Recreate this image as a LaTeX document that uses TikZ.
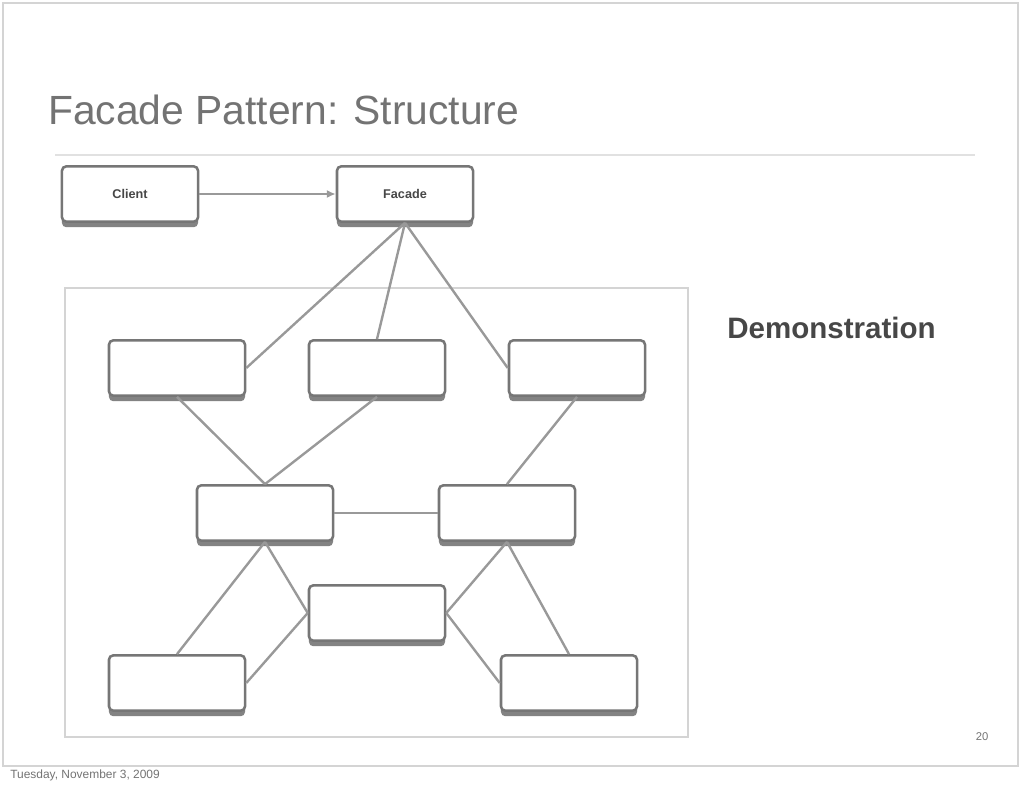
\documentclass[tikz,border=0pt]{standalone}
\usepackage{fontspec}
\setmainfont{Liberation Sans}
\usepackage{xcolor}
\usetikzlibrary{arrows.meta,shadows}
\definecolor{boxgrey}{HTML}{767676}
\definecolor{linegrey}{HTML}{999999}
\definecolor{framegrey}{HTML}{D4D4D4}
\definecolor{titlegrey}{HTML}{737373}
\definecolor{textgrey}{HTML}{474747}

\begin{document}
\begin{tikzpicture}[
  x=0.025cm, y=-0.025cm,
  every node/.style={align=center},
  classbox/.style={rectangle, rounded corners=3pt, fill=white, draw=boxgrey,
    line width=1.8pt, minimum width=3.4cm, minimum height=1.38cm,
    font=\small\bfseries, text=textgrey,
    drop shadow={shadow xshift=0pt, shadow yshift=-4pt, fill=boxgrey, opacity=0.9}},
  link/.style={line width=1.7pt, linegrey},
  arrow/.style={-{Latex[length=2.2mm, width=2mm]}, line width=1.7pt, linegrey}
]
\useasboundingbox (0,0) rectangle (1024,788);

%% Slide frame, title and rule
\draw[framegrey, line width=1pt] (3,3) rectangle (1018,766);
\node[anchor=west, font=\fontsize{29}{34}\selectfont, text=titlegrey, inner sep=0pt]
  (title) at (48,110) {Facade Pattern: Structure};
\draw[framegrey!70, line width=1pt] (55,155) -- (975,155);

%% Subsystem frame
\draw[framegrey, line width=2pt] (65,288) rectangle (688,737);

%% Client and facade
\node[classbox] (client) at (130,194) {Client};
\node[classbox] (facade) at (405,194) {Facade};

%% Subsystem classes
\node[classbox] (classa) at (177,368) {};
\node[classbox] (classb) at (377,368) {};
\node[classbox] (classc) at (577,368) {};
\node[classbox] (classd) at (265,513) {};
\node[classbox] (classe) at (507,513) {};
\node[classbox] (classf) at (377,613) {};
\node[classbox] (classg) at (177,683) {};
\node[classbox] (classh) at (569,683) {};

%% Client to facade
\draw[arrow] (client.east) -- (facade.west);

%% Facade into the subsystem
\draw[link] (facade.south) -- (classa.east);
\draw[link] (facade.south) -- (classb.north);
\draw[link] (facade.south) -- (classc.west);

%% Inside the subsystem
\draw[link] (classa.south) -- (classd.north);
\draw[link] (classb.south) -- (classd.north);
\draw[link] (classc.south) -- (classe.north);
\draw[link] (classd.east) -- (classe.west);
\draw[link] (classd.south) -- (classg.north);
\draw[link] (classd.south) -- (classf.west);
\draw[link] (classg.east) -- (classf.west);
\draw[link] (classe.south) -- (classf.east);
\draw[link] (classe.south) -- (classh.north);
\draw[link] (classf.east) -- (classh.west);

%% Side note, page number and footer
\node[anchor=west, font=\fontsize{21}{25}\selectfont\bfseries, text=textgrey, inner sep=0pt]
  (demo) at (727,328) {Demonstration};
\node[font=\fontsize{8}{10}\selectfont, text=titlegrey] (pageno) at (982,737) {20};
\node[anchor=west, font=\fontsize{8.5}{10}\selectfont, text=titlegrey, inner sep=0pt]
  (footer) at (10,775) {Tuesday, November 3, 2009};

\end{tikzpicture}
\end{document}
